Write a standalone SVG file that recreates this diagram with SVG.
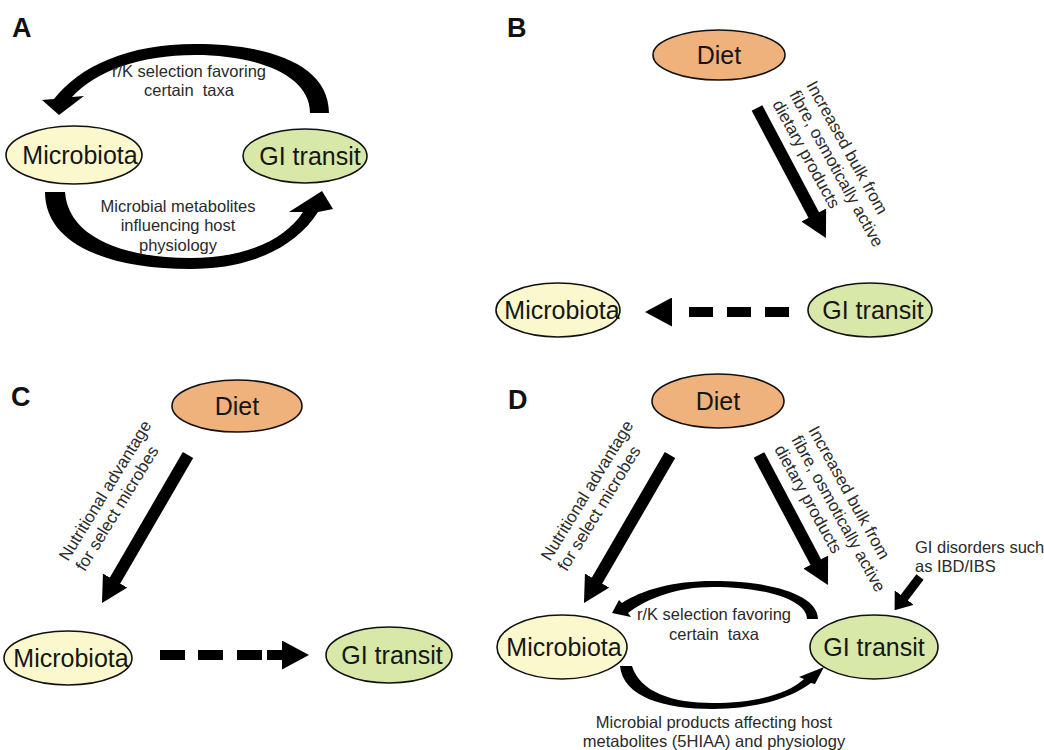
<svg xmlns="http://www.w3.org/2000/svg" width="1044" height="750" viewBox="0 0 1044 750">
<style>
  .node ellipse { stroke: #111; stroke-width: 1.6; }
  .diet { fill: #F0B27C; }
  .mic { fill: #FBF8CD; }
  .git { fill: #D8E8A8; }
  .nl { font-family: "Liberation Sans", Arial, sans-serif; font-size: 25px; fill: #161616; text-anchor: middle; }
  .lab { font-family: "Liberation Sans", Arial, sans-serif; font-size: 16.5px; fill: #2a2a2a; white-space: pre; }
  .rot { font-size: 17px; }
  .mid { text-anchor: middle; }
  .panel { font-family: "Liberation Sans", Arial, sans-serif; font-size: 27px; font-weight: bold; fill: #111; }
  .solid { stroke: #000; stroke-width: 12; fill: none; marker-end: url(#head); }
  .small { stroke: #000; stroke-width: 9; fill: none; marker-end: url(#headS); }
  .dash { stroke: #000; stroke-width: 10; fill: none; marker-end: url(#dhead); }
  .arc { fill: #000; stroke: none; }
</style>
<defs>
  <marker id="head" markerUnits="userSpaceOnUse" markerWidth="26" markerHeight="28" viewBox="0 0 26 28" refX="0.5" refY="14" orient="auto">
    <path d="M0,0 L26,14 L0,28 Z" fill="#000"/>
  </marker>
  <marker id="headS" markerUnits="userSpaceOnUse" markerWidth="16" markerHeight="24" viewBox="0 0 16 24" refX="0.5" refY="12" orient="auto">
    <path d="M0,0 L16,12 L0,24 Z" fill="#000"/>
  </marker>
  <marker id="dhead" markerUnits="userSpaceOnUse" markerWidth="27" markerHeight="29" viewBox="0 0 27 29" refX="0" refY="14.5" orient="auto">
    <path d="M0,0 L27,14.5 L0,29 Z" fill="#000"/>
  </marker>
</defs>

<g id="panel-labels">
  <text class="panel" x="12" y="37">A</text>
  <text class="panel" x="507" y="37">B</text>
  <text class="panel" x="11" y="406">C</text>
  <text class="panel" x="508" y="409">D</text>
</g>

<g id="connectors">
  <!-- Panel A curved arrows -->
  <path class="arc" d="M329,113 C329,64 268,44 195,44 C128,44 80,66 54,99 L42,100 L59,115 L84,96 L72,97 C96,71 140,55 195,55 C255,55 310,74 310,113 Z"/>
  <path class="arc" d="M45,192 C45,245 110,269 190,269 C250,269 295,248 318,212 L333,209 L322,191 L289,212 L303,212 C285,240 245,258 190,258 C125,258 68,238 65,192 Z"/>
  <!-- Panel B -->
  <path class="solid" d="M757,108 L814,215.5"/>
  <path class="dash" d="M789,312 L672,312" stroke-dasharray="24 14 24 14 24 17"/>
  <!-- Panel C -->
  <path class="solid" d="M188,455 L114.8,581"/>
  <path class="dash" d="M160,655 L282,655" stroke-dasharray="25 13 25 14 25 5 15"/>
  <!-- Panel D -->
  <path class="solid" d="M670,455 L596.8,581"/>
  <path class="solid" d="M759,455 L816,562.5"/>
  <path class="small" d="M920,577 L904,598"/>
  <path class="arc" d="M818,619 C818,595 772,581 713,581 C672,581 642,590 622,603 L619,600 L612,613 L631,617 L628,613 C648,598 677,587 713,587 C765,587 807,600 807,619 Z"/>
  <path class="arc" d="M620,666 C623,697 664,709 713,709 C758,709 793,697 811,683 L815,684 L824,667 L799,677 L804,679 C788,694 755,703 713,703 C672,703 640,692 632,666 Z"/>
</g>

<g id="edge-labels">
  <text class="lab mid" x="189" y="77">r/K selection favoring</text>
  <text class="lab mid" x="189" y="96">certain  taxa</text>
  <text class="lab mid" x="178" y="212">Microbial metabolites</text>
  <text class="lab mid" x="178" y="231">influencing host</text>
  <text class="lab mid" x="178" y="251">physiology</text>

  <g transform="translate(806,85) rotate(61)">
    <text class="lab rot" x="0" y="0">Increased bulk from</text>
    <text class="lab rot" x="0" y="19.5">fibre, osmotically active</text>
    <text class="lab rot" x="0" y="39">dietary products</text>
  </g>

  <g transform="translate(68,562) rotate(-58.5)">
    <text class="lab rot" x="0" y="0">Nutritional advantage</text>
    <text class="lab rot" x="0" y="19.5">for select microbes</text>
  </g>

  <g transform="translate(550,562) rotate(-58.5)">
    <text class="lab rot" x="0" y="0">Nutritional advantage</text>
    <text class="lab rot" x="0" y="19.5">for select microbes</text>
  </g>

  <g transform="translate(808,430) rotate(61)">
    <text class="lab rot" x="0" y="0">Increased bulk from</text>
    <text class="lab rot" x="0" y="19.5">fibre, osmotically active</text>
    <text class="lab rot" x="0" y="39">dietary products</text>
  </g>

  <text class="lab mid" x="714" y="620">r/K selection favoring</text>
  <text class="lab mid" x="714" y="640">certain  taxa</text>
  <text class="lab mid" x="714" y="728">Microbial products affecting host</text>
  <text class="lab mid" x="714" y="747">metabolites (5HIAA) and physiology</text>
  <text class="lab" x="915" y="553">GI disorders such</text>
  <text class="lab" x="915" y="572">as IBD/IBS</text>
</g>

<g id="A-microbiota" class="node"><ellipse class="mic" cx="74" cy="155" rx="68" ry="29"/><text class="nl" x="80" y="164">Microbiota</text></g>
<g id="A-gitransit" class="node"><ellipse class="git" cx="305" cy="156" rx="62" ry="27"/><text class="nl" x="310" y="165">GI transit</text></g>

<g id="B-diet" class="node"><ellipse class="diet" cx="719" cy="55" rx="66" ry="25"/><text class="nl" x="719" y="64">Diet</text></g>
<g id="B-microbiota" class="node"><ellipse class="mic" cx="558" cy="310" rx="62" ry="27"/><text class="nl" x="562" y="319">Microbiota</text></g>
<g id="B-gitransit" class="node"><ellipse class="git" cx="870" cy="310" rx="62" ry="27"/><text class="nl" x="873" y="319">GI transit</text></g>

<g id="C-diet" class="node"><ellipse class="diet" cx="237" cy="406" rx="65" ry="26"/><text class="nl" x="237" y="415">Diet</text></g>
<g id="C-microbiota" class="node"><ellipse class="mic" cx="68" cy="658" rx="64" ry="27"/><text class="nl" x="71" y="667">Microbiota</text></g>
<g id="C-gitransit" class="node"><ellipse class="git" cx="389" cy="655" rx="63" ry="28"/><text class="nl" x="392" y="664">GI transit</text></g>

<g id="D-diet" class="node"><ellipse class="diet" cx="718" cy="401" rx="66" ry="27"/><text class="nl" x="718" y="410">Diet</text></g>
<g id="D-microbiota" class="node"><ellipse class="mic" cx="562" cy="647" rx="65" ry="32"/><text class="nl" x="564" y="656">Microbiota</text></g>
<g id="D-gitransit" class="node"><ellipse class="git" cx="874" cy="647" rx="64" ry="32"/><text class="nl" x="874" y="656">GI transit</text></g>
</svg>
